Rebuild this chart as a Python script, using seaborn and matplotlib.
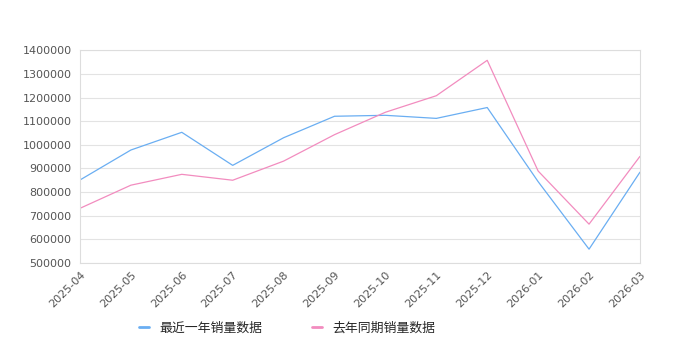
import matplotlib

matplotlib.use("Agg")

import pandas as pd
import seaborn as sns
import matplotlib.pyplot as plt

# 月份
months = [
    "2025-04", "2025-05", "2025-06", "2025-07", "2025-08", "2025-09",
    "2025-10", "2025-11", "2025-12", "2026-01", "2026-02", "2026-03",
]
# 最近一年销量数据
recent = [851000, 978000, 1053000, 913000, 1030000, 1121000,
          1125000, 1112000, 1158000, 844000, 558000, 884000]
# 去年同期销量数据
last_year = [731000, 829000, 875000, 850000, 931000, 1043000,
             1138000, 1208000, 1358000, 889000, 664000, 951000]

series_names = ["最近一年销量数据", "去年同期销量数据"]
palette = ["#6aaef2", "#f28cbf"]
y_ticks = list(range(500000, 1400001, 100000))


def main():
    df = pd.DataFrame({"month": months, series_names[0]: recent, series_names[1]: last_year})
    long_df = df.melt(id_vars="month", var_name="series", value_name="sales")

    sns.set_theme(style="white")
    plt.rcParams["font.family"] = ["Noto Sans CJK SC", "DejaVu Sans"]

    fig = plt.figure(figsize=(6.8, 3.5), dpi=100)
    ax = fig.add_axes([0.1176, 0.249, 0.8235, 0.607])

    sns.lineplot(
        data=long_df, x="month", y="sales", hue="series",
        hue_order=series_names, palette=palette, linewidth=0.9, ax=ax, sort=False,
    )

    ax.set_xlim(0, len(months) - 1)
    ax.set_ylim(y_ticks[0], y_ticks[-1])
    ax.set_yticks(y_ticks)
    ax.set_yticklabels([str(v) for v in y_ticks], family="DejaVu Sans")
    ax.set_xticks(range(len(months)))
    ax.set_xticklabels(months, rotation=45, ha="right", rotation_mode="anchor",
                       family="DejaVu Sans")
    ax.tick_params(axis="both", labelsize=8, labelcolor="#555555", length=0)
    ax.tick_params(axis="y", pad=6)
    ax.tick_params(axis="x", pad=5)
    ax.set_xlabel("")
    ax.set_ylabel("")
    ax.grid(axis="y", color="#e3e3e3", linewidth=0.8)
    ax.set_axisbelow(True)
    for sp in ax.spines.values():
        sp.set_color("#dddddd")
        sp.set_linewidth(0.8)

    handles, labels = ax.get_legend_handles_labels()
    for h in handles:
        h.set_linewidth(2)
    ax.legend(
        handles, labels, loc="center", bbox_to_anchor=(0.37, -0.306),
        ncol=2, frameon=False, fontsize=9.3, handlelength=0.8,
        columnspacing=3.8, handletextpad=0.8,
    )

    fig.savefig("out.png", dpi=100)
    plt.close(fig)


if __name__ == "__main__":
    main()
